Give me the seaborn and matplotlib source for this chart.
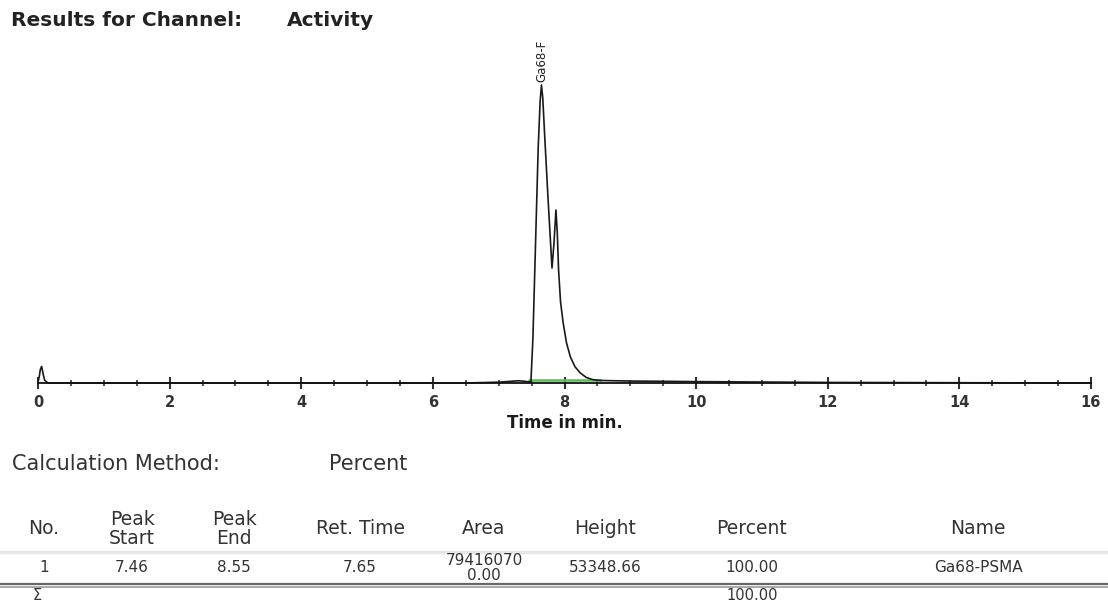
import matplotlib
matplotlib.use("Agg")
import matplotlib.pyplot as plt
import seaborn as sns
import pandas as pd
from matplotlib.ticker import MultipleLocator

sns.set_style("white")
plt.rcParams['font.family'] = ['DejaVu Sans']

# --------------------------------------------------
# data (time in min, height)
# --------------------------------------------------
time = [0.0, 0.02, 0.035, 0.055, 0.075, 0.1, 0.15, 1.0, 3.0, 5.0, 6.5, 7.0, 7.3, 7.4, 7.46,
        7.49, 7.52, 7.56, 7.6, 7.63, 7.65, 7.67, 7.7, 7.75, 7.81, 7.84, 7.87, 7.89, 7.91,
        7.94, 7.98, 8.03, 8.09, 8.16, 8.24, 8.33, 8.43, 8.55, 9.0, 10.0, 12.0, 14.0, 16.0]
signal = [200, 1200, 2400, 2970, 1800, 500, 0, 0, 0, 0, 0, 150, 400, 300, 200,
          300, 8000, 25000, 42000, 50500, 53349, 51000, 44000, 33000, 20590, 25000, 30970, 27000, 20230,
          14500, 10740, 7200, 4650, 2900, 1790, 1000, 600, 450, 350, 250, 100, 50, 0]

peak_name = "Ga68-F"
peak_ret = 7.65
peak_height = 53348.66
peak_start = 7.46
peak_end = 8.55

header = ["No.", "Peak\nStart", "Peak\nEnd", "Ret. Time", "Area", "Height", "Percent", "Name"]
row = ["1", "7.46", "8.55", "7.65", "79416070\n0.00", "53348.66", "100.00", "Ga68-PSMA"]
total = ["", "", "", "", "", "", "100.00", ""]
col_x = [44, 132, 234, 360, 484, 605, 752, 978]

W, H = 1108, 604
fig = plt.figure(figsize=(W / 100, H / 100), dpi=100)

def fx(px):
    return px / W

def fy(py):
    return 1 - py / H

ax = fig.add_axes([fx(38), fy(383), fx(1091) - fx(38), fy(45) - fy(383)])

df = pd.DataFrame({"time": time, "signal": signal})
# integration baseline
sns.lineplot(x=[peak_start, peak_end], y=[450, 450], ax=ax, color="#5cb85c", lw=1.8)
sns.lineplot(data=df, x="time", y="signal", ax=ax, color="#1a1a1a", lw=1.2,
             sort=True, clip_on=False)

ax.set_xlim(0, 16)
ax.set_ylim(0, 60510)
ax.set_ylabel("")
ax.set_xlabel("Time in min.", fontsize=12, fontweight="bold", labelpad=3, color="#1a1a1a")
for s in ["left", "top", "right"]:
    ax.spines[s].set_visible(False)
ax.spines["bottom"].set_linewidth(1.3)
ax.spines["bottom"].set_color("#111111")
ax.set_yticks([])
ax.xaxis.set_major_locator(MultipleLocator(2))
ax.xaxis.set_minor_locator(MultipleLocator(0.5))
ax.tick_params(axis="x", which="major", direction="inout", length=9, width=1.5, color="#333333",
               labelsize=10.5, pad=4, bottom=True, labelcolor="#333333")
ax.tick_params(axis="x", which="minor", direction="inout", length=5, width=1.2, color="#333333",
               bottom=True)
for lab in ax.get_xticklabels():
    lab.set_fontweight("bold")
ax.patch.set_alpha(0)

# peak label
ax.annotate(peak_name, xy=(peak_ret, peak_height), xytext=(0, 2), textcoords="offset points",
            rotation=90, ha="center", va="bottom", fontsize=8.5, color="#222222")

# --------------------------------------------------
# header texts
# --------------------------------------------------
fig.text(fx(11), fy(21), "Results for Channel:", fontsize=14.5, fontweight="bold",
         va="center", color="#222222")
fig.text(fx(287), fy(21), "Activity", fontsize=14.5, fontweight="bold",
         va="center", color="#222222")
fig.text(fx(12), fy(464), "Calculation Method:", fontsize=15, va="center", color="#333333")
fig.text(fx(329), fy(464), "Percent", fontsize=15, va="center", color="#333333")

# --------------------------------------------------
# peak table
# --------------------------------------------------
for x, h in zip(col_x, header):
    fig.text(fx(x), fy(529), h, fontsize=13.5, ha="center", va="center", linespacing=1.0,
             color="#333333")
fig.add_artist(plt.Line2D([0, 1], [fy(552), fy(552)], color="#e6e6e6", lw=2.5))
for x, v in zip(col_x, row):
    fig.text(fx(x), fy(568), v, fontsize=11, ha="center", va="center", linespacing=0.95,
             color="#333333")
fig.add_artist(plt.Line2D([0, 1], [fy(584), fy(584)], color="#666666", lw=1.6))
fig.add_artist(plt.Line2D([0, 1], [fy(587), fy(587)], color="#999999", lw=1.2))
fig.text(fx(33), fy(595.5), "\u03a3", fontsize=10.5, ha="left", va="center", color="#333333")
for x, v in zip(col_x, total):
    if v:
        fig.text(fx(x), fy(595.5), v, fontsize=10.5, ha="center", va="center", color="#333333")

fig.savefig("out.png", dpi=100)
